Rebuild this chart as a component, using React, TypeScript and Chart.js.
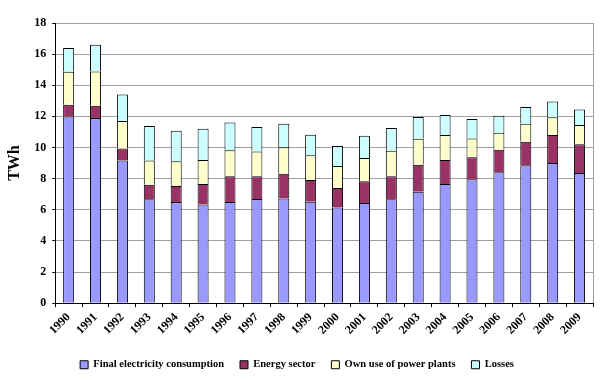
import React, { useEffect, useRef } from "react";
import { Chart, registerables } from "chart.js";

Chart.register(...registerables);

const years = ["1990","1991","1992","1993","1994","1995","1996","1997","1998","1999","2000","2001","2002","2003","2004","2005","2006","2007","2008","2009"];
const finalConsumption = [12.0, 11.9, 9.16, 6.67, 6.5, 6.34, 6.5, 6.69, 6.73, 6.52, 6.15, 6.43, 6.67, 7.16, 7.66, 7.96, 8.41, 8.86, 9.01, 8.37];
const energySector = [0.75, 0.79, 0.78, 0.94, 1.03, 1.32, 1.65, 1.46, 1.59, 1.39, 1.25, 1.4, 1.48, 1.74, 1.54, 1.42, 1.44, 1.51, 1.79, 1.84];
const ownUse = [2.11, 2.19, 1.76, 1.55, 1.59, 1.54, 1.68, 1.59, 1.7, 1.59, 1.42, 1.5, 1.64, 1.66, 1.6, 1.2, 1.1, 1.16, 1.14, 1.23];
const losses = [1.54, 1.72, 1.7, 2.22, 1.96, 2.0, 1.78, 1.57, 1.51, 1.32, 1.27, 1.42, 1.46, 1.4, 1.29, 1.25, 1.09, 1.07, 1.01, 1.01];
const seriesNames = ["Final electricity consumption", "Energy sector", "Own use of power plants", "Losses"];

const font = "'Liberation Serif', 'Times New Roman', serif";

const framePlugin = {
  id: "frame",
  afterDraw(chart: any) {
    const { ctx, chartArea } = chart;
    ctx.save();
    ctx.strokeStyle = "#a0a0a0";
    ctx.lineWidth = 1;
    ctx.beginPath();
    ctx.moveTo(Math.round(chartArea.right) + 0.5, chartArea.top);
    ctx.lineTo(Math.round(chartArea.right) + 0.5, chartArea.bottom);
    ctx.stroke();
    ctx.restore();
  },
};

export default function App() {
  const ref = useRef<HTMLCanvasElement>(null);
  useEffect(() => {
    const mk = (label: string, data: number[], color: string) => ({
      label,
      data,
      backgroundColor: color,
      borderColor: "#000000",
      borderWidth: 1,
      borderSkipped: "start",
      barPercentage: 0.41,
      categoryPercentage: 1.0,
    });
    const chart = new Chart(ref.current!, {
      type: "bar",
      data: {
        labels: years,
        datasets: [
          mk(seriesNames[0], finalConsumption, "#9999FF"),
          mk(seriesNames[1], energySector, "#993366"),
          mk(seriesNames[2], ownUse, "#FFFFCC"),
          mk(seriesNames[3], losses, "#CCFFFF"),
        ],
      },
      options: {
        animation: false,
        responsive: true,
        maintainAspectRatio: false,
        layout: { padding: { top: 23, right: 11, left: 1, bottom: 0 } },
        plugins: {
          tooltip: { enabled: false },
          legend: {
            position: "bottom",
            title: { display: true, text: "", font: { size: 1 }, padding: { top: 0, bottom: 2 } },
            labels: {
              boxWidth: 8,
              boxHeight: 8,
              padding: 16,
              color: "#000",
              font: { family: font, size: 10.5, weight: "bold" },
            },
          },
        },
        scales: {
          x: {
            stacked: true,
            grid: { drawOnChartArea: false, drawTicks: true, tickLength: 4, color: "#000", offset: true },
            border: { color: "#000" },
            ticks: {
              autoSkip: false,
              maxRotation: 45,
              minRotation: 45,
              color: "#000",
              padding: 3,
              font: { family: font, size: 12, weight: "bold" },
            },
          },
          y: {
            stacked: true,
            min: 0,
            max: 18,
            grid: { color: "#a0a0a0", tickColor: "#000", tickLength: 3 },
            border: { color: "#000" },
            ticks: {
              stepSize: 2,
              color: "#000",
              padding: 6,
              font: { family: font, size: 12, weight: "bold" },
            },
            title: {
              display: true,
              text: "TWh",
              color: "#000",
              padding: 4,
              font: { family: font, size: 16, weight: "bold" },
            },
          },
        },
      },
      plugins: [framePlugin],
    });
    return () => chart.destroy();
  }, []);
  return (
    <div style={{ position: "fixed", left: 0, top: 0, width: 604, height: 380, background: "#fff" }}>
      <canvas ref={ref} />
    </div>
  );
}
